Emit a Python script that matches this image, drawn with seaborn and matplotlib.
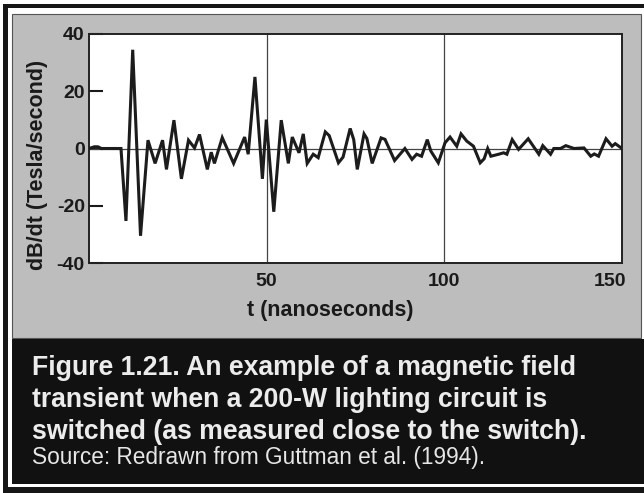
import seaborn as sns
import matplotlib.pyplot as plt
from matplotlib.patches import Rectangle
from matplotlib.transforms import ScaledTranslation

W, H = 644, 493

# (ns, T/s)
T_NS = [0, 1.5, 2.5, 3.5, 9.0, 10.4, 12.3, 14.5, 16.6, 18.6,
        20.7, 21.8, 23.9, 26.0, 28.0, 29.7, 31.1, 33.3, 34.4, 35.3,
        37.5, 40.7, 43.8, 44.8, 46.7, 48.8, 49.9, 52.0, 54.1, 56.1,
        57.2, 59.1, 60.3, 61.4, 63.1, 64.5, 66.5, 67.6, 70.2, 71.5,
        73.5, 74.5, 75.5, 77.4, 78.2, 79.7, 82.2, 83.3, 86.0, 88.9,
        90.9, 92.2, 93.6, 95.2, 96.2, 98.3, 100.2, 101.6, 103.5, 104.7,
        106.3, 108.2, 110.1, 111.2, 112.2, 113.1, 115.3, 116.7, 117.6, 119.1,
        120.9, 123.6, 126.6, 127.7, 129.9, 130.8, 132.7, 134.2, 136.5, 139.3,
        141.2, 142.2, 143.4, 145.5, 147.2, 148.1, 150.0]
DBDT = [0, 0.6, 0.6, 0, 0, -25.3, 34.5, -30.5, 2.9, -5.2,
        2.9, -7.3, 9.9, -10.6, 2.9, 0.2, 4.9, -7.3, -1.3, -5.2,
        3.8, -5.2, 4.0, -2.0, 25.0, -10.6, 10.1, -22.1, 9.9, -5.2,
        4.0, -1.5, 5.1, -5.2, -2.0, -3.2, 5.8, 4.5, -5.0, -3.0,
        7.0, 3.1, -7.3, 5.1, 3.5, -5.2, 3.7, 3.2, -4.2, 0.0,
        -3.8, -2.0, -2.7, 3.1, -0.9, -5.0, 2.0, 4.0, 0.8, 5.1,
        2.6, 0.8, -5.0, -3.6, 0.0, -2.7, -2.0, -1.5, -2.0, 3.1,
        -0.3, 3.4, -2.0, 1.0, -2.0, 0.0, 0.0, 1.0, 0.0, 0.2,
        -2.7, -1.9, -2.7, 3.4, 0.8, 1.7, 0.0]

X_TICKS = [50, 100, 150]
Y_TICKS = [-40, -20, 0, 20, 40]
X_LABEL = "t (nanoseconds)"
Y_LABEL = "dB/dt (Tesla/second)"
CAPTION = ["Figure 1.21. An example of a magnetic field",
           "transient when a 200-W lighting circuit is",
           "switched (as measured close to the switch)."]
SOURCE = "Source: Redrawn from Guttman et al. (1994)."


def box(fig, x0, y0, x1, y1, **kw):
    # pixel box measured from the top left corner of the picture
    r = Rectangle((x0 / W, 1 - y1 / H), (x1 - x0) / W, (y1 - y0) / H,
                  transform=fig.transFigure, zorder=-5, **kw)
    fig.add_artist(r)


def main():
    sns.set_style("ticks")
    plt.rcParams["font.family"] = ["Liberation Sans", "DejaVu Sans"]
    plt.rcParams["font.weight"] = "bold"
    plt.rcParams["axes.unicode_minus"] = False

    fig = plt.figure(figsize=(W / 100, H / 100), dpi=100)

    # frame pieces of the scanned figure
    box(fig, 12, 14, 641, 338, facecolor="#bdbdbd", edgecolor="#555555", lw=0.8)
    box(fig, 12, 339, 644, 484, facecolor="#111111", edgecolor="none")
    box(fig, 3, 4, 644, 8, facecolor="#161616", edgecolor="none")
    box(fig, 3, 4, 8, 493, facecolor="#161616", edgecolor="none")
    box(fig, 3, 487, 644, 493, facecolor="#161616", edgecolor="none")

    ax = fig.add_axes([89 / W, 1 - 263 / H, 533 / W, 229 / H])
    ax.set_facecolor("white")

    ax.axhline(0, color="#444444", lw=0.9, zorder=1)
    sns.lineplot(x=T_NS, y=DBDT, ax=ax, color="#1c1c1c", linewidth=2.2,
                 estimator=None, zorder=3)
    ax.lines[-1].set_solid_joinstyle("miter")

    ax.set_xlim(0, 150)
    ax.set_ylim(-40, 40)
    ax.set_xticks(X_TICKS)
    ax.set_yticks(Y_TICKS)
    ax.xaxis.grid(True, color="#444444", lw=0.9)
    ax.set_axisbelow(True)

    ax.tick_params(axis="y", direction="in", length=10, width=1.5,
                   pad=3, labelsize=14, colors="#1a1a1a")
    ax.tick_params(axis="x", length=0, pad=7, labelsize=14, colors="#1a1a1a")
    for s in ax.spines.values():
        s.set_linewidth(1.4)
        s.set_color("#222222")

    lbl = ax.get_xticklabels()[-1]
    lbl.set_transform(lbl.get_transform() +
                      ScaledTranslation(-8.6 / 72, 0, fig.dpi_scale_trans))

    ax.set_xlabel(X_LABEL, fontsize=15.5, fontweight="bold", color="#1a1a1a")
    ax.set_ylabel(Y_LABEL, fontsize=15.5, fontweight="bold", color="#1a1a1a")
    ax.xaxis.set_label_coords(0.453, -0.162)
    ax.yaxis.set_label_coords(-0.077, 0.428)

    for i, line in enumerate(CAPTION):
        fig.text(32 / W, 1 - (375 + 32 * i) / H, line, fontsize=19.2,
                 fontweight="bold", color="#ececec", va="baseline")
    fig.text(32 / W, 1 - 464 / H, SOURCE, fontsize=16.3,
             fontweight="normal", color="#e6e6e6", va="baseline")

    fig.savefig("out.png", dpi=100)


main()
